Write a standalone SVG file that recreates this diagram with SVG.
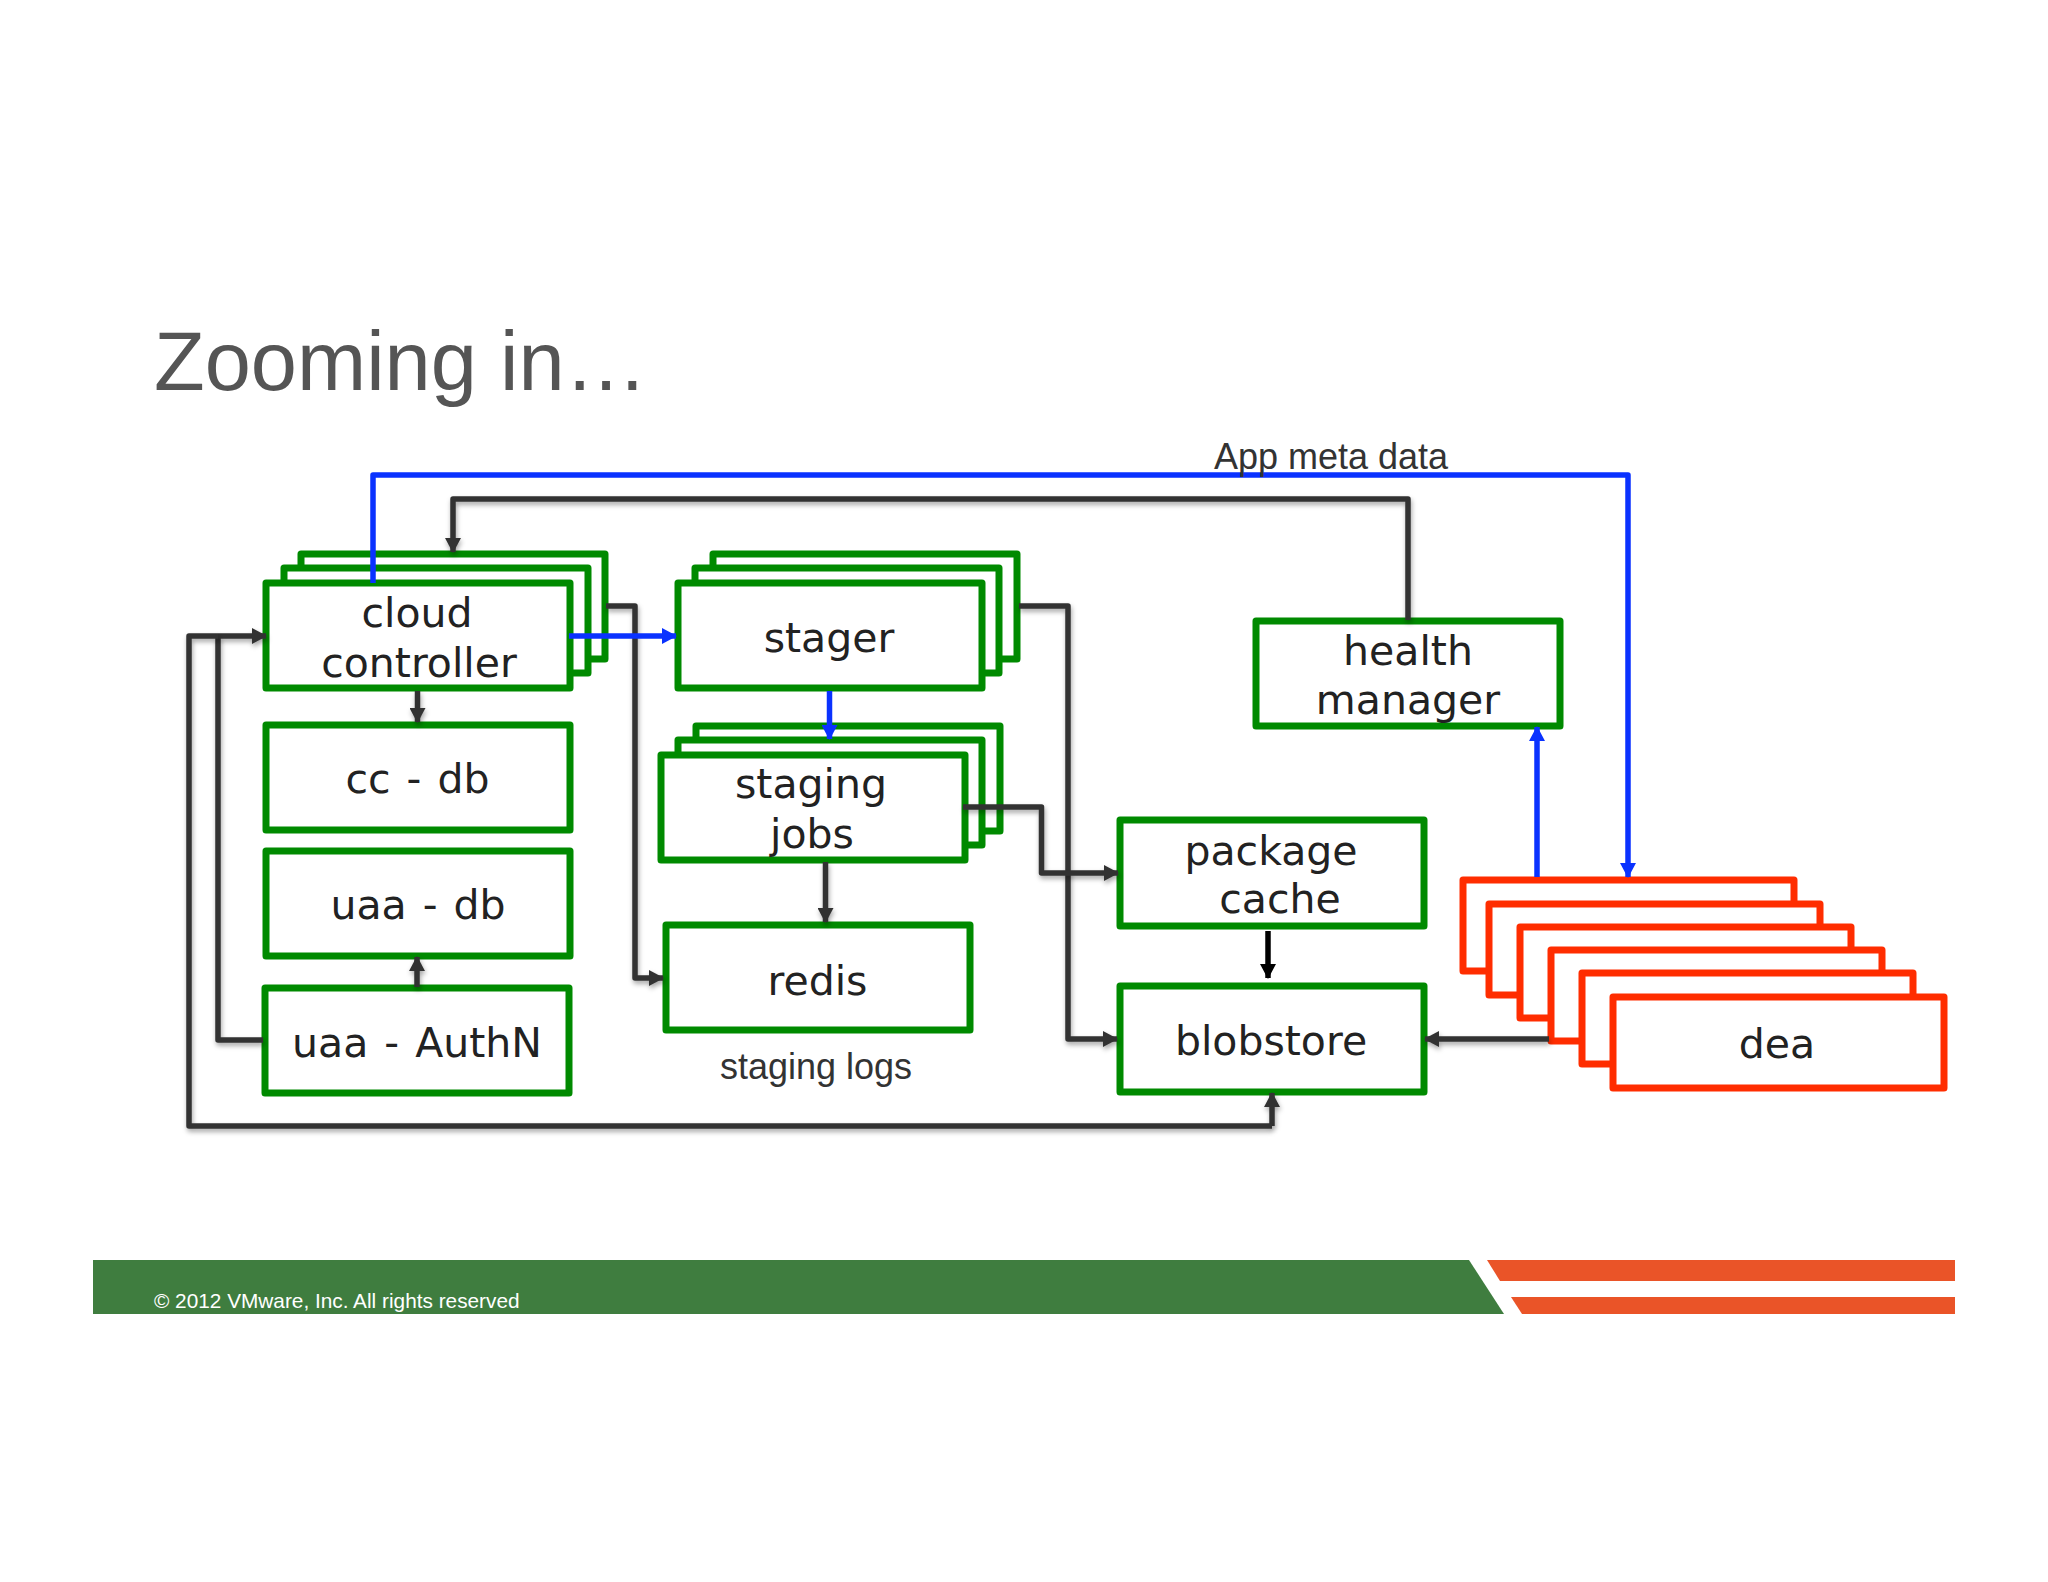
<svg xmlns="http://www.w3.org/2000/svg" width="2048" height="1582" viewBox="0 0 2048 1582">
<defs>
<filter id="sh" x="0" y="0" width="2048" height="1582" filterUnits="userSpaceOnUse"><feDropShadow dx="1" dy="3" stdDeviation="2.500" flood-color="#000" flood-opacity="0.35"/></filter>
<marker id="ad" markerUnits="userSpaceOnUse" markerWidth="16" markerHeight="16" refX="14" refY="8" orient="auto"><path d="M0 0L15 8L0 16Z" fill="#333"/></marker>
<marker id="ab" markerUnits="userSpaceOnUse" markerWidth="16" markerHeight="16" refX="14" refY="8" orient="auto"><path d="M0 0L15 8L0 16Z" fill="#0a32ff"/></marker>
<marker id="ak" markerUnits="userSpaceOnUse" markerWidth="16" markerHeight="16" refX="14" refY="8" orient="auto"><path d="M0 0L15 8L0 16Z" fill="#000"/></marker>
</defs>
<style>
.g{fill:#fff;stroke:#008a00;stroke-width:7;stroke-linejoin:round}
.r{fill:#fff;stroke:#ff2d00;stroke-width:7;stroke-linejoin:round}
.t{font-family:"DejaVu Sans",sans-serif;font-size:41px;fill:#222;text-anchor:middle;word-spacing:3px}
.a{font-family:"Liberation Sans",Arial,sans-serif;fill:#333;text-anchor:middle;font-size:36px}
.d{fill:none;stroke:#333;stroke-width:5.500;stroke-linejoin:round;filter:url(#sh)}
.b{fill:none;stroke:#0a32ff;stroke-width:5.500;stroke-linejoin:round}
.dm{marker-end:url(#ad)}
.bm{marker-end:url(#ab)}
</style>
<rect width="2048" height="1582" fill="#fff"/>
<text id="title" x="154" y="390" font-family="Liberation Sans, Arial, sans-serif" font-size="83" fill="#555">Zooming in…</text>
<g id="footer">
<path d="M93 1260H1469L1504 1314H93Z" fill="#3f7d3f"/>
<path d="M1487 1260H1955V1281H1500Z" fill="#ea5428"/>
<path d="M1511 1297H1955V1314H1522Z" fill="#ea5428"/>
<text x="154" y="1308" font-family="Liberation Sans, Arial, sans-serif" font-size="20.800" fill="#fff">© 2012 VMware, Inc. All rights reserved</text>
</g>
<g id="cloud-controller">
<rect class="g" x="301" y="554" width="304" height="105"/>
<rect class="g" x="284" y="568" width="304" height="105"/>
<rect class="g" x="266" y="583" width="304" height="105"/>
<text class="t" x="417" y="627">cloud</text>
<text class="t" x="419" y="677">controller</text>
</g>
<g id="cc-db"><rect class="g" x="266" y="725" width="304" height="105"/><text class="t" x="417.500" y="793">cc - db</text></g>
<g id="uaa-db"><rect class="g" x="266" y="851" width="304" height="105"/><text class="t" x="418" y="919">uaa - db</text></g>
<g id="uaa-authn"><rect class="g" x="265" y="988" width="304" height="105"/><text class="t" x="417" y="1057">uaa - AuthN</text></g>
<g id="stager">
<rect class="g" x="713" y="554" width="304" height="105"/>
<rect class="g" x="695" y="568" width="304" height="105"/>
<rect class="g" x="678" y="583" width="304" height="105"/>
<text class="t" x="829" y="652">stager</text>
</g>
<g id="staging-jobs">
<rect class="g" x="696" y="726" width="304" height="105"/>
<rect class="g" x="678" y="740" width="304" height="105"/>
<rect class="g" x="661" y="755" width="304" height="105"/>
<text class="t" x="811" y="798">staging</text>
<text class="t" x="812" y="848">jobs</text>
</g>
<g id="redis"><rect class="g" x="666" y="925" width="304" height="105"/><text class="t" x="817.500" y="995">redis</text></g>
<g id="package-cache"><rect class="g" x="1120" y="820" width="304" height="106"/><text class="t" x="1271" y="865">package</text><text class="t" x="1280" y="913">cache</text></g>
<g id="blobstore"><rect class="g" x="1120" y="986" width="304" height="106"/><text class="t" x="1271" y="1055">blobstore</text></g>
<g id="health-manager"><rect class="g" x="1256" y="621" width="304" height="105"/><text class="t" x="1408" y="665">health</text><text class="t" x="1408" y="714">manager</text></g>
<g id="dea">
<rect class="r" x="1463" y="880" width="331" height="91"/>
<rect class="r" x="1489" y="904" width="331" height="91"/>
<rect class="r" x="1520" y="927" width="331" height="91"/>
<rect class="r" x="1551" y="950" width="331" height="91"/>
<rect class="r" x="1582" y="973" width="331" height="91"/>
<rect class="r" x="1613" y="997" width="331" height="91"/>
<text class="t" x="1777" y="1058">dea</text>
</g>
<g id="connectors">
<path class="d dm" d="M1408 620V499H453V552"/>
<path class="d dm" d="M1019 606H1068V1039H1117"/>
<path class="d dm" d="M606 606H635V978H663"/>
<path class="d dm" d="M963 807H1041.500V873H1118"/>
<path class="d dm" d="M825.500 862V922"/>
<path class="d dm" d="M417.500 691V722"/>
<path class="d dm" d="M417 987V957"/>
<path class="d" d="M263 1040H218V636"/>
<path class="d dm" d="M1272 1126V1093"/>
<path class="d dm" d="M218 636H266"/>
<path class="d" d="M218 636H189V1126H1272"/>
<path class="d dm" d="M1549 1039H1425"/>
<path d="M1268 931V978" fill="none" stroke="#000" stroke-width="5.500" marker-end="url(#ak)"/>
<path class="b bm" d="M373 583V475H1628V877"/>
<path class="b bm" d="M1537 877V727"/>
<path class="b bm" d="M569 636H676"/>
<path class="b bm" d="M829.500 691V739"/>
</g>
<text class="a" x="1331" y="469">App meta data</text>
<text class="a" x="816" y="1079">staging logs</text>
</svg>
